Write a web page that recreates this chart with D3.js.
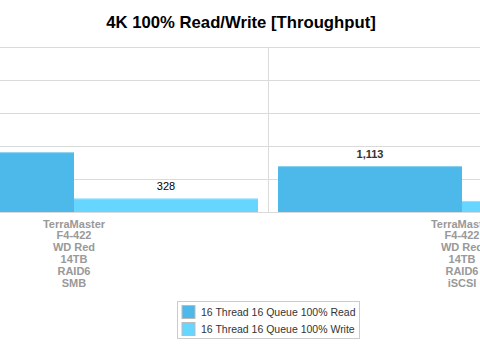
<!DOCTYPE html>
<html>
<head>
<meta charset="utf-8">
<script src="https://cdn.jsdelivr.net/npm/d3@7"></script>
<style>
  html, body { margin: 0; padding: 0; background: #fff; overflow: hidden; }
  svg { display: block; font-family: "Liberation Sans", Arial, sans-serif; }
</style>
</head>
<body>
<div id="chart"></div>
<script>
// --- DATOS ---
const categories = ["TerraMaster F4-422 WD Red 14TB RAID6 SMB", "TerraMaster F4-422 WD Red 14TB RAID6 iSCSI"];
const categoryLines = [
  ["TerraMaster", "F4-422", "WD Red", "14TB", "RAID6", "SMB"],
  ["TerraMaster", "F4-422", "WD Red", "14TB", "RAID6", "iSCSI"]
];
const seriesNames = ["16 Thread 16 Queue 100% Read", "16 Thread 16 Queue 100% Write"];
const readValues = [1450, 1113];
const writeValues = [328, 268];
const yTicks = [0, 800, 1600, 2400, 3200, 4000];

const colors = ["#4db9ea", "#66d5ff"];
const W = 480, H = 349;
// el área de trazado es más ancha que la ventana (recortada a ambos lados)
const plot = { left: -120, right: 656, top: 47, bottom: 212 };

const svg = d3.select("#chart").append("svg")
  .attr("width", W).attr("height", H);

// Título
svg.append("text")
  .attr("x", W / 2 + 1).attr("y", 28)
  .attr("text-anchor", "middle")
  .style("font-size", "16.7px").style("font-weight", "bold").attr("fill", "#000")
  .text("4K 100% Read/Write [Throughput]");

const x0 = d3.scaleBand().domain(categories).range([plot.left, plot.right]);
const x1 = d3.scaleBand().domain(seriesNames).range([10, x0.bandwidth() - 10]);
const y = d3.scaleLinear().domain([0, 4000]).range([plot.bottom, plot.top]);

// Rejilla horizontal
svg.append("g").selectAll("line").data(yTicks).join("line")
  .attr("x1", plot.left).attr("x2", plot.right)
  .attr("y1", d => Math.round(y(d)) + 0.5).attr("y2", d => Math.round(y(d)) + 0.5)
  .attr("stroke", "#dadada");

// Separadores de categoría
svg.append("g").selectAll("line").data(categories.slice(1)).join("line")
  .attr("x1", d => x0(d) + 0.5).attr("x2", d => x0(d) + 0.5)
  .attr("y1", plot.top).attr("y2", plot.bottom)
  .attr("stroke", "#dadada");

// Barras
const rows = categories.map((c, i) => ({ cat: c, values: [readValues[i], writeValues[i]] }));
const groups = svg.append("g").selectAll("g").data(rows).join("g")
  .attr("transform", d => `translate(${x0(d.cat)},0)`);

groups.selectAll("rect")
  .data(d => d.values.map((v, j) => ({ s: seriesNames[j], v, j })))
  .join("rect")
  .attr("x", d => x1(d.s))
  .attr("y", d => y(d.v))
  .attr("width", x1.bandwidth())
  .attr("height", d => y(0) - y(d.v))
  .attr("fill", d => colors[d.j]);

// brillo en el borde superior
groups.selectAll("line.top")
  .data(d => d.values.map((v, j) => ({ s: seriesNames[j], v, j })))
  .join("line").attr("class", "top")
  .attr("x1", d => x1(d.s)).attr("x2", d => x1(d.s) + x1.bandwidth())
  .attr("y1", d => y(d.v) + 0.5).attr("y2", d => y(d.v) + 0.5)
  .attr("stroke", "#fff").attr("stroke-opacity", 0.3);

// Valores
groups.selectAll("text.val")
  .data(d => d.values.map((v, j) => ({ s: seriesNames[j], v, j })))
  .join("text").attr("class", "val")
  .attr("x", d => x1(d.s) + x1.bandwidth() / 2)
  .attr("y", d => y(d.v) - 8)
  .attr("text-anchor", "middle")
  .style("font-size", "11px")
  .style("font-weight", d => d.j === 0 ? "bold" : "normal")
  .attr("fill", d => d.j === 0 ? "#333" : "#000")
  .text(d => d3.format(",")(d.v));

// Etiquetas de categoría (varias líneas)
const catLabels = svg.append("g").selectAll("text").data(categories).join("text")
  .attr("text-anchor", "middle")
  .style("font-size", "11px").style("font-weight", "bold").attr("fill", "#999");
catLabels.each(function (d, i) {
  const t = d3.select(this);
  categoryLines[i].forEach((line, k) => {
    t.append("tspan")
      .attr("x", x0(d) + x0.bandwidth() / 2)
      .attr("y", plot.bottom + 15.5 + k * 11.9)
      .text(line);
  });
});

// Leyenda
const legendX = 177.5, legendY = 301.5, legendW = 182, legendH = 37;
const legend = svg.append("g");
legend.append("rect")
  .attr("x", legendX).attr("y", legendY)
  .attr("width", legendW).attr("height", legendH)
  .attr("fill", "#fff").attr("stroke", "#ccc");
seriesNames.forEach((name, i) => {
  const gy = legendY + 4 + i * 17;
  legend.append("rect")
    .attr("x", legendX + 4.5).attr("y", gy)
    .attr("width", 13).attr("height", 13)
    .attr("fill", colors[i]).attr("stroke", "#bbb");
  legend.append("text")
    .attr("x", legendX + 23.5).attr("y", gy + 10.5)
    .style("font-size", "10.5px").attr("fill", "#333")
    .text(name);
});
</script>
</body>
</html>
